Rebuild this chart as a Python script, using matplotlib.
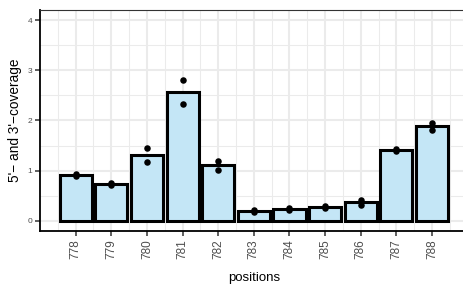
import matplotlib
matplotlib.use("Agg")
import matplotlib.pyplot as plt
import numpy as np
from matplotlib.ticker import MultipleLocator

plt.rcParams['font.family'] = ['Liberation Sans', 'DejaVu Sans']

positions = [778, 779, 780, 781, 782, 783, 784, 785, 786, 787, 788]
rep1 = [0.89, 0.72, 1.45, 2.81, 1.19, 0.18, 0.22, 0.30, 0.42, 1.40, 1.95]
rep2 = [0.93, 0.75, 1.18, 2.32, 1.02, 0.22, 0.26, 0.25, 0.32, 1.44, 1.82]
means = [(a + b) / 2 for a, b in zip(rep1, rep2)]
y_ticks = [0, 1, 2, 3, 4]

fig = plt.figure(figsize=(4.64, 2.86), dpi=100)
ax = fig.add_axes([40/464, 55/286, 427.7/464, 221/286])

ax.set_xlim(777.0, 789.0)
ax.set_ylim(-0.2, 4.2)

ax.set_xticks(positions)
ax.set_xticks([p + 0.5 for p in [777] + positions], minor=True)
ax.set_yticks(y_ticks)
ax.yaxis.set_minor_locator(MultipleLocator(0.5))

ax.grid(True, which='major', color='#EBEBEB', linewidth=1.5, zorder=0)
ax.grid(True, which='minor', color='#EBEBEB', linewidth=0.75, zorder=0)
ax.set_axisbelow(True)

ax.bar(positions, means, width=0.9, color='#C4E6F6', edgecolor='black',
       linewidth=2.2, zorder=2)
ax.scatter(positions, rep1, s=22, color='black', zorder=3, linewidths=0)
ax.scatter(positions, rep2, s=22, color='black', zorder=3, linewidths=0)

for side in ['left', 'bottom']:
    ax.spines[side].set_color('black')
    ax.spines[side].set_linewidth(1.3)
ax.spines['top'].set_color('#333333')
ax.spines['top'].set_linewidth(0.8)
ax.spines['right'].set_color('#333333')
ax.spines['right'].set_linewidth(0.8)

ax.tick_params(axis='x', which='major', direction='out', length=3.5, width=1.1,
               color='#333333', labelcolor='#4D4D4D', labelsize=8.5,
               labelrotation=90, pad=2.5)
ax.tick_params(axis='y', which='major', direction='out', length=3.5, width=1.1,
               color='#333333', labelcolor='#4D4D4D', labelsize=6, pad=2)
ax.tick_params(which='minor', length=0)

ax.set_xlabel('positions', fontsize=9.5, color='black', labelpad=9)
ax.set_ylabel("5'\u2212 and 3'\u2212coverage", fontsize=9.8, color='black', labelpad=4)

fig.savefig('out.png', dpi=100)
